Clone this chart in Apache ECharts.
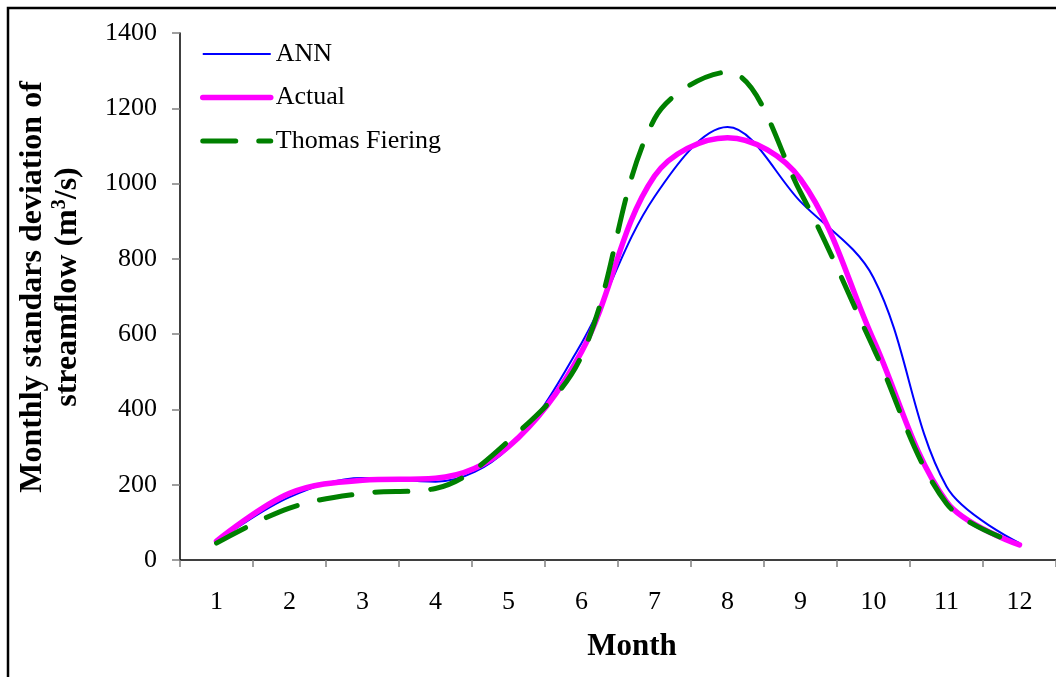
<!DOCTYPE html>
<html>
<head>
<meta charset="utf-8">
<script src="https://cdn.jsdelivr.net/npm/echarts@6/dist/echarts.min.js"></script>
<style>
html,body{margin:0;padding:0;background:#fff;}
#chart{width:1056px;height:677px;}
</style>
</head>
<body>
<div id="chart"></div>
<script>
const months = ['1','2','3','4','5','6','7','8','9','10','11','12'];
const annValues = [48, 167, 218, 208, 297, 576, 965, 1150, 952, 750, 195, 45];
const actualValues = [50, 177, 212, 217, 301, 553, 1020, 1122, 1012, 585, 155, 40];
const thomasFieringValues = [45, 138, 177, 190, 316, 542, 1172, 1296, 977, 563, 150, 42];
const seriesNames = ['ANN', 'Actual', 'Thomas Fiering'];
const xTitle = 'Month';
const yTitleLine1 = 'Monthly standars deviation of';

const serif = '"Liberation Serif", "Times New Roman", serif';
const chart = echarts.init(document.getElementById('chart'), null, {renderer: 'canvas'});
const SMOOTH = 0.35;

const lineStyles = [
  {color: '#0000ff', width: 2, type: 'solid', cap: 'butt'},
  {color: '#ff00ff', width: 5.5, type: 'solid', cap: 'round'},
  {color: '#008000', width: 5, type: [33, 23], cap: 'round'}
];

chart.setOption({
  animation: false,
  backgroundColor: '#ffffff',
  grid: {left: 180, top: 33, right: -7, bottom: 117},
  legend: {
    orient: 'vertical',
    left: 200,
    top: 39,
    padding: 0,
    itemWidth: 68,
    itemHeight: 14,
    itemGap: 13.5,
    itemStyle: {color: 'rgba(0,0,0,0)', borderWidth: 0, opacity: 0},
    textStyle: {fontFamily: serif, fontSize: 26, color: '#000', lineHeight: 30},
    data: seriesNames.map(function (n, i) { return {name: n, lineStyle: lineStyles[i]}; })
  },
  xAxis: {
    type: 'category',
    data: months,
    boundaryGap: true,
    axisLine: {lineStyle: {color: '#000', width: 1.5}},
    axisTick: {show: true, length: 7, lineStyle: {color: '#808080', width: 1.5}},
    axisLabel: {fontFamily: serif, fontSize: 26, color: '#000', margin: 29},
    splitLine: {show: false}
  },
  yAxis: {
    type: 'value',
    min: 0, max: 1400, interval: 200,
    axisLine: {show: true, lineStyle: {color: '#000', width: 1.5}},
    axisTick: {show: true, length: 8, lineStyle: {color: '#808080', width: 1.5}},
    axisLabel: {fontFamily: serif, fontSize: 26, color: '#000', margin: 23,
                formatter: function (v) { return String(v); }},
    splitLine: {show: false}
  },
  series: [
    {name: seriesNames[0], type: 'line', data: annValues, smooth: SMOOTH, symbol: 'none',
     lineStyle: lineStyles[0], itemStyle: {color: lineStyles[0].color}},
    {name: seriesNames[1], type: 'line', data: actualValues, smooth: SMOOTH, symbol: 'none',
     lineStyle: lineStyles[1], itemStyle: {color: lineStyles[1].color}},
    {name: seriesNames[2], type: 'line', data: thomasFieringValues, smooth: SMOOTH, symbol: 'none',
     lineStyle: lineStyles[2], itemStyle: {color: lineStyles[2].color}}
  ],
  graphic: [
    {type: 'rect', shape: {x: 8, y: 8, width: 1200, height: 800},
     style: {fill: 'none', stroke: '#000', lineWidth: 2.5}, silent: true, z: 100},
    {type: 'text', x: 632, y: 647,
     style: {text: xTitle, fontFamily: serif, fontSize: 31, fontWeight: 'bold', fill: '#000',
             align: 'center', verticalAlign: 'middle'}},
    {type: 'text', x: 50, y: 287, rotation: Math.PI / 2,
     style: {
       text: yTitleLine1 + '\n{n|streamflow (m}{sup|3}{n|/s)}',
       fontFamily: serif, fontSize: 32, fontWeight: 'bold', fill: '#000',
       align: 'center', verticalAlign: 'middle', lineHeight: 35,
       rich: {
         n: {fontFamily: serif, fontSize: 32, fontWeight: 'bold', fill: '#000', lineHeight: 35},
         sup: {fontFamily: serif, fontSize: 20, fontWeight: 'bold', fill: '#000', verticalAlign: 'top', padding: [0,0,12,0], lineHeight: 35}
       }
     }}
  ]
});
</script>
</body>
</html>
